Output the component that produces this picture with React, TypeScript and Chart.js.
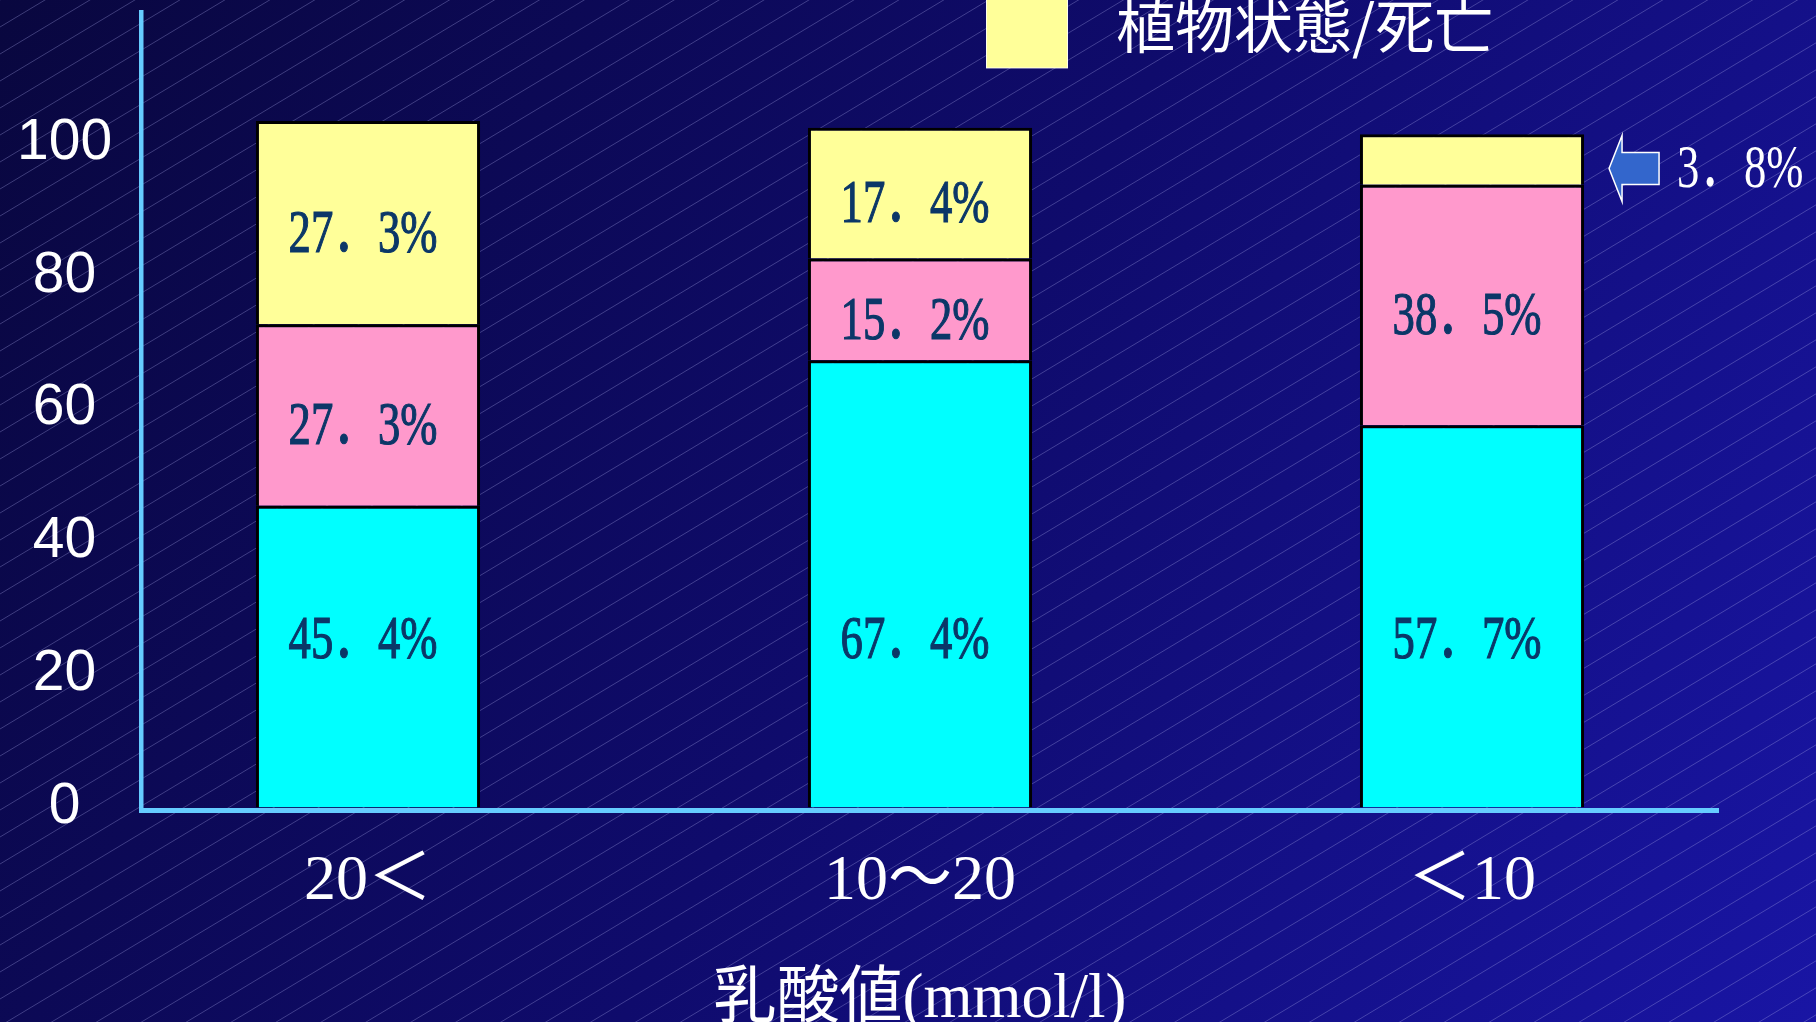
import React, { useEffect, useRef } from 'react';
import { Chart, registerables } from 'chart.js';

Chart.register(...registerables);

// ---------- data ----------
const categories = ['20＜', '10～20', '＜10'];
const seriesNames = ['社会復帰/中等度障害', '高度障害', '植物状態/死亡'];
// bar segment heights as drawn (percent axis)
const recoveryValues = [45.4, 67.3, 57.5];
const disabilityValues = [27.3, 15.3, 36.2];
const vegetativeDeathValues = [30.6, 19.7, 7.6];
// printed percentage labels
const recoveryLabels = ['45．4%', '67．4%', '57．7%'];
const disabilityLabels = ['27．3%', '15．2%', '38．5%'];
const vegetativeDeathLabels = ['27．3%', '17．4%', '3．8%'];
const yTickValues = [0, 20, 40, 60, 80, 100];
const yMax = 120;
const xTitle = '乳酸値(mmol/l)';

const W = 1816;
const H = 1022;

const SERIF = '"Liberation Serif", "Noto Sans CJK JP", serif';
const CJK = '"Noto Sans CJK JP", "Liberation Serif", sans-serif';

const backgroundPlugin = {
  id: 'slideBackground',
  beforeDraw(chart: any) {
    const { ctx, width, height } = chart;
    ctx.save();
    const g = ctx.createLinearGradient(0, 0, width, height);
    g.addColorStop(0, '#09073f');
    g.addColorStop(0.5, '#0f0b6c');
    g.addColorStop(1, '#1915a4');
    ctx.fillStyle = g;
    ctx.fillRect(0, 0, width, height);
    // fine diagonal hatching
    ctx.strokeStyle = 'rgba(170,170,235,0.33)';
    ctx.lineWidth = 1;
    const t = Math.tan((31 * Math.PI) / 180);
    const step = 27;
    ctx.beginPath();
    for (let c = 0; c < height + width * t; c += step) {
      ctx.moveTo(0, c);
      ctx.lineTo(width, c - width * t);
    }
    ctx.stroke();
    ctx.restore();
  },
};

const axesPlugin = {
  id: 'axisLines',
  beforeDatasetsDraw(chart: any) {
    const { ctx, chartArea } = chart;
    const y0 = chart.scales.y.getPixelForValue(0);
    const axisX = chartArea.left + 49;
    const axisEnd = chartArea.right - 29;
    ctx.save();
    ctx.fillStyle = '#66ccff';
    ctx.fillRect(axisX - 2, chartArea.top, 4.5, y0 + 5 - chartArea.top);
    ctx.fillRect(axisX - 2, y0 + 0.5, axisEnd - axisX + 2, 5);
    ctx.restore();
  },
};

const legendPlugin = {
  id: 'partialLegend',
  afterDraw(chart: any) {
    const { ctx } = chart;
    const ds = chart.data.datasets[2];
    ctx.save();
    ctx.fillStyle = ds.backgroundColor;
    ctx.fillRect(986, -14, 82, 82);
    ctx.strokeStyle = 'rgba(255,255,255,0.8)';
    ctx.lineWidth = 1;
    ctx.strokeRect(986.5, -14, 81, 82);
    ctx.fillStyle = '#ffffff';
    ctx.font = `59px ${CJK}`;
    ctx.textAlign = 'left';
    ctx.textBaseline = 'alphabetic';
    ctx.fillText(ds.label, 1116, 48);
    ctx.restore();
  },
};

const BOTTOM_LABEL_LEVEL = 25;
const LABEL_SCALE_X = 0.72;
const LABEL_FONT = `62px ${SERIF}`;

const segmentLabelPlugin = {
  id: 'segmentLabels',
  afterDatasetsDraw(chart: any) {
    const { ctx } = chart;
    const yScale = chart.scales.y;
    const texts = [recoveryLabels, disabilityLabels, vegetativeDeathLabels];
    chart.data.datasets.forEach((_ds: any, i: number) => {
      const meta = chart.getDatasetMeta(i);
      meta.data.forEach((bar: any, j: number) => {
        const { x, y, base, width } = bar.getProps(['x', 'y', 'base', 'width'], true);
        const text = texts[i][j];
        const h = base - y;
        ctx.save();
        ctx.font = LABEL_FONT;
        ctx.textBaseline = 'middle';
        ctx.lineWidth = 1.2;
        if (h < 70) {
          const tx = x + width / 2 + 25;
          const cy = (y + base) / 2 + 9;
          ctx.beginPath();
          ctx.moveTo(tx, cy);
          ctx.lineTo(tx + 13, cy - 33);
          ctx.lineTo(tx + 13, cy - 16);
          ctx.lineTo(tx + 50, cy - 16);
          ctx.lineTo(tx + 50, cy + 16);
          ctx.lineTo(tx + 13, cy + 16);
          ctx.lineTo(tx + 13, cy + 33);
          ctx.closePath();
          ctx.fillStyle = '#3366cc';
          ctx.fill();
          ctx.strokeStyle = '#ffffff';
          ctx.lineWidth = 1.5;
          ctx.stroke();
          ctx.fillStyle = '#ffffff';
          ctx.textAlign = 'left';
          ctx.translate(tx + 68, cy + 2);
          ctx.scale(LABEL_SCALE_X, 1);
          ctx.fillText(text, 0, 0);
        } else {
          const cy = i === 0 ? yScale.getPixelForValue(BOTTOM_LABEL_LEVEL) : (y + base) / 2 + 13;
          ctx.fillStyle = '#0b3768';
          ctx.strokeStyle = '#0b3768';
          ctx.textAlign = 'center';
          ctx.translate(x - 5, cy);
          ctx.scale(LABEL_SCALE_X, 1);
          ctx.fillText(text, 0, 0);
          ctx.strokeText(text, 0, 0);
        }
        ctx.restore();
      });
    });
  },
};

export default function App() {
  const canvasRef = useRef<HTMLCanvasElement | null>(null);

  useEffect(() => {
    if (!canvasRef.current) return;
    const common = {
      borderColor: '#000000',
      borderWidth: 3,
      barPercentage: 0.406,
      categoryPercentage: 1,
    };
    const chart = new Chart(canvasRef.current, {
      type: 'bar',
      data: {
        labels: categories,
        datasets: [
          { label: seriesNames[0], data: recoveryValues, backgroundColor: '#00ffff', ...common },
          { label: seriesNames[1], data: disabilityValues, backgroundColor: '#ff99cc', ...common },
          { label: seriesNames[2], data: vegetativeDeathValues, backgroundColor: '#ffff99', ...common },
        ],
      },
      options: {
        responsive: false,
        animation: false,
        devicePixelRatio: 1,
        layout: { padding: { top: 10, left: 0, right: W - 1748, bottom: 0 } },
        plugins: {
          legend: { display: false },
          tooltip: { enabled: false },
        },
        scales: {
          x: {
            stacked: true,
            grid: { display: false, drawTicks: false },
            border: { display: false },
            ticks: {
              color: '#ffffff',
              font: { family: SERIF, size: 64 },
              padding: 36,
              maxRotation: 0,
              autoSkip: false,
            },
            title: {
              display: true,
              text: xTitle,
              color: '#ffffff',
              font: { family: SERIF, size: 63 },
              padding: { top: 0, bottom: -16 },
            },
            afterFit: (s: any) => {
              s.height = H - 807.5;
              s.paddingLeft = 0;
              s.paddingRight = 0;
            },
          },
          y: {
            stacked: true,
            min: 0,
            max: yMax,
            grid: { display: false, drawTicks: false },
            border: { display: false },
            afterBuildTicks: (s: any) => {
              s.ticks = yTickValues.map((v) => ({ value: v }));
            },
            ticks: {
              color: '#ffffff',
              font: { family: '"Liberation Sans", Arial, sans-serif', size: 57 },
              crossAlign: 'center',
              mirror: true,
              padding: -75,
            },
            afterFit: (s: any) => {
              s.width = 92;
              s.paddingTop = 0;
              s.paddingBottom = 0;
            },
          },
        },
      },
      plugins: [backgroundPlugin, axesPlugin, segmentLabelPlugin, legendPlugin],
    } as any);
    return () => chart.destroy();
  }, []);

  return (
    <div style={{ position: 'fixed', left: 0, top: 0, width: W, height: H, overflow: 'hidden' }}>
      <canvas ref={canvasRef} width={W} height={H} style={{ display: 'block' }} />
    </div>
  );
}
